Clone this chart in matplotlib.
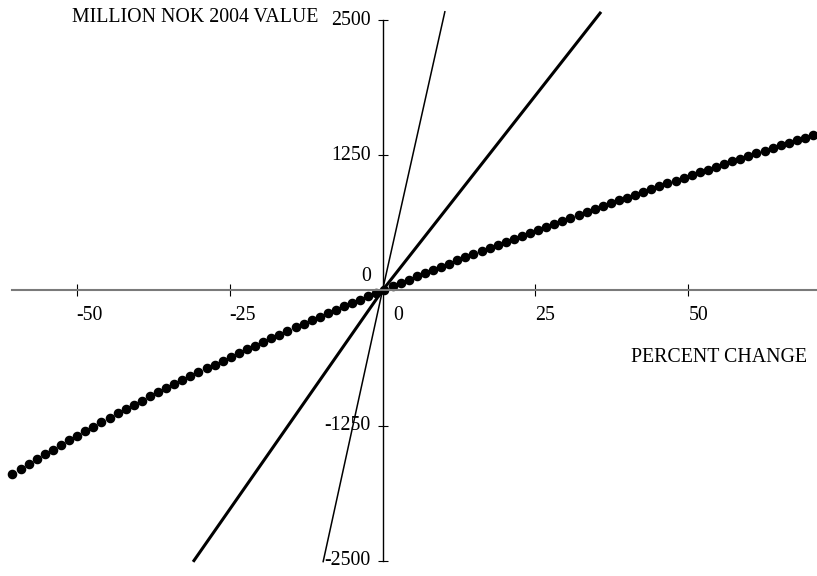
import matplotlib
matplotlib.use("Agg")
import matplotlib.pyplot as plt

# Percent change on the x axis, value in million NOK (2004) on the y axis
x_ticks = [-50, -25, 25, 50]
y_ticks = [-2500, -1250, 1250, 2500]

# Steep thin response line
steep_pct = [-9.73, 0.0, 10.22]
steep_val = [-2515, 0, 2583]

# Medium thick response line
mid_pct = [-30.97, 0.0, 35.73]
mid_val = [-2510, 0, 2575]

# Flat response, sampled points
flat_pct = [
    -60.50, -59.18, -57.86, -56.53, -55.21, -53.89, -52.57, -51.24, -49.92, -48.60,
    -47.28, -45.96, -44.63, -43.31, -41.99, -40.67, -39.34, -38.02, -36.70, -35.38,
    -34.06, -32.73, -31.41, -30.09, -28.77, -27.45, -26.12, -24.80, -23.48, -22.16,
    -20.83, -19.51, -18.19, -16.87, -15.55, -14.22, -12.90, -11.58, -10.26, -8.93,
    -7.61, -6.29, -4.97, -3.65, -2.32, -1.00, 0.32, 1.64, 2.96, 4.29,
    5.61, 6.93, 8.25, 9.57, 10.90, 12.22, 13.54, 14.86, 16.19, 17.51,
    18.83, 20.15, 21.47, 22.80, 24.12, 25.44, 26.76, 28.08, 29.41, 30.73,
    32.05, 33.37, 34.70, 36.02, 37.34, 38.66, 39.98, 41.31, 42.63, 43.95,
    45.27, 46.59, 47.92, 49.24, 50.56, 51.88, 53.21, 54.53, 55.85, 57.17,
    58.49, 59.82, 61.14, 62.46, 63.78, 65.10, 66.43, 67.75, 69.07, 70.39,
]
flat_val = [
    -1700, -1653, -1607, -1561, -1516, -1472, -1429, -1385, -1343, -1301,
    -1260, -1219, -1178, -1138, -1098, -1059, -1020, -981, -943, -905,
    -868, -831, -794, -757, -721, -686, -650, -615, -580, -545,
    -511, -477, -443, -409, -376, -343, -310, -277, -245, -212,
    -180, -149, -117, -86, -54, -23, 7, 38, 68, 99,
    129, 159, 189, 218, 248, 277, 306, 335, 364, 392,
    421, 449, 477, 505, 533, 561, 589, 616, 644, 671,
    698, 725, 752, 779, 805, 832, 858, 885, 911, 937,
    963, 989, 1014, 1040, 1065, 1091, 1116, 1141, 1166, 1192,
    1217, 1242, 1266, 1291, 1316, 1340, 1364, 1389, 1413, 1437,
]

plt.rcParams["font.family"] = ["Liberation Serif", "DejaVu Serif"]
plt.rcParams["font.size"] = 14.3

fig = plt.figure(figsize=(8.17, 5.76), dpi=100)
ax = fig.add_axes([0, 0, 1, 1])
ax.set_xlim(-62.54, 71.04)
ax.set_ylim(-2641, 2685)

ax.plot(flat_pct, flat_val, linestyle="none", marker="o", markersize=5.9,
        color="black")
ax.plot(mid_pct, mid_val, color="black", linewidth=2.2, solid_capstyle="butt")
ax.plot(steep_pct, steep_val, color="black", linewidth=1.1, solid_capstyle="butt")

# axes crossing at the origin
for side in ("top", "right"):
    ax.spines[side].set_visible(False)
ax.spines["left"].set_position(("data", 0))
ax.spines["bottom"].set_position(("data", 0))
ax.spines["left"].set_bounds(-2500, 2500)
ax.spines["bottom"].set_bounds(-60.5, 71.04)
ax.spines["left"].set_linewidth(1.0)
ax.spines["bottom"].set_linewidth(1.5)
ax.spines["bottom"].set_color("#7a7a7a")

ax.set_xticks(x_ticks)
ax.set_yticks(y_ticks)
ax.set_xticklabels([])
ax.set_yticklabels([])
ax.tick_params(axis="x", direction="inout", length=9, width=0.8, color="black")
ax.tick_params(axis="y", direction="inout", length=7.5, width=0.8, color="black")

for t in x_ticks:
    ax.annotate(str(t), (t, 0), xytext=(0, -25), textcoords="offset pixels",
                ha="left", va="center")
for t in y_ticks:
    ax.annotate(str(t), (0, t), xytext=(-12, 0), textcoords="offset pixels",
                ha="right", va="center")
ax.annotate("0", (0, 0), xytext=(11, -25), textcoords="offset pixels",
            ha="left", va="center")
ax.annotate("0", (0, 0), xytext=(-11, 14), textcoords="offset pixels",
            ha="right", va="center")

ax.text(318 / 817, 1 - 18 / 576, "MILLION NOK 2004 VALUE", transform=ax.transAxes,
        ha="right", va="center")
ax.text(807 / 817, 1 - 357 / 576, "PERCENT CHANGE", transform=ax.transAxes,
        ha="right", va="center")

fig.savefig("out.png", dpi=100)
